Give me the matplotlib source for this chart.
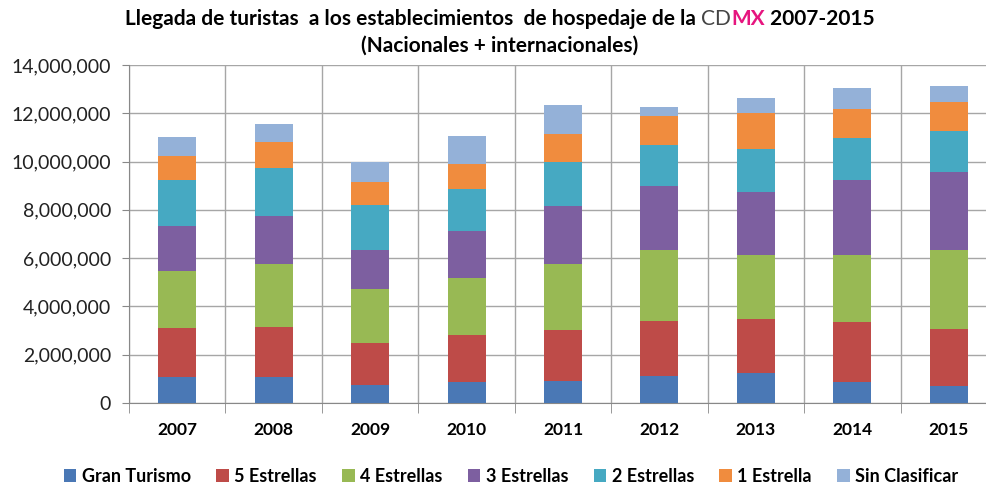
import numpy as np
import matplotlib
matplotlib.use("Agg")
import matplotlib.pyplot as plt
from matplotlib.ticker import FuncFormatter, MultipleLocator
from matplotlib.patches import Patch

plt.rcParams['font.family'] = ['Lato', 'DejaVu Sans']

# Data (millions of arrivals)
years = ['2007', '2008', '2009', '2010', '2011', '2012', '2013', '2014', '2015']
categorias = ['Gran Turismo', '5 Estrellas', '4 Estrellas', '3 Estrellas',
              '2 Estrellas', '1 Estrella', 'Sin Clasificar']
gran_turismo = [1.08, 1.08, 0.76, 0.85, 0.92, 1.13, 1.24, 0.85, 0.72]
cinco = [2.01, 2.07, 1.74, 1.97, 2.12, 2.27, 2.26, 2.49, 2.36]
cuatro = [2.36, 2.62, 2.22, 2.36, 2.73, 2.95, 2.64, 2.80, 3.27]
tres = [1.90, 1.96, 1.63, 1.95, 2.37, 2.65, 2.60, 3.11, 3.23]
dos = [1.87, 2.01, 1.86, 1.73, 1.85, 1.68, 1.79, 1.74, 1.70]
una = [1.03, 1.07, 0.94, 1.05, 1.17, 1.19, 1.50, 1.17, 1.20]
sin_clasificar = [0.76, 0.73, 0.83, 1.15, 1.18, 0.41, 0.61, 0.90, 0.63]

series = [gran_turismo, cinco, cuatro, tres, dos, una, sin_clasificar]
colores = ['#4A78B5', '#BE4B48', '#98B954', '#7D5FA0', '#46A9C2', '#F08C3E', '#94B1D8']

fig = plt.figure(figsize=(9.86, 4.87), dpi=100)
ax = fig.add_axes([129 / 986, 84 / 487, 868 / 986, 338 / 487])

x = np.arange(len(years))
bottom = np.zeros(len(years))
for vals, c in zip(series, colores):
    v = np.array(vals) * 1e6
    ax.bar(x, v, width=0.395, bottom=bottom, color=c, zorder=3)
    bottom += v

ax.set_xlim(-0.5, len(years) - 0.5)
ax.set_ylim(0, 14e6)
ax.yaxis.set_major_locator(MultipleLocator(2e6))
ax.yaxis.set_major_formatter(FuncFormatter(lambda v, p: f'{int(v):,}'))
ax.set_xticks(x)
ax.set_xticklabels(years, fontweight='bold', fontsize=12.5)
ax.set_xticks(np.arange(-0.5, len(years), 1), minor=True)
ax.tick_params(axis='x', which='major', length=0, pad=14)
ax.tick_params(axis='x', which='minor', length=7, color='#888888')
ax.tick_params(axis='y', length=5, color='#888888', labelsize=14, pad=8, labelcolor='#222222')
ax.grid(True, which='major', axis='y', color='#A6A6A6', lw=1, zorder=0)
ax.grid(True, which='minor', axis='x', color='#A6A6A6', lw=1, zorder=0)
for s in ['top', 'right']:
    ax.spines[s].set_visible(False)
for s in ['left', 'bottom']:
    ax.spines[s].set_color('#888888')

# Title with coloured CDMX
fig.canvas.draw()
r = fig.canvas.get_renderer()
parts = [("Llegada de turistas  a los establecimientos  de hospedaje de la ", 'black', 'bold'),
         ("CD", '#444444', 'normal'),
         ("MX", '#E6157F', 'bold'),
         (" 2007-2015", 'black', 'bold')]
texts = []
for s, c, w in parts:
    t = fig.text(0, 1 - 19 / 487, s, color=c, fontweight=w, fontsize=15, va='center', ha='left')
    texts.append(t)
widths = [t.get_window_extent(renderer=r).width for t in texts]
start = 500 - sum(widths) / 2
for t, w in zip(texts, widths):
    t.set_x(start / 986)
    start += w
fig.text(500 / 986, 1 - 46 / 487, "(Nacionales + internacionales)", fontweight='bold',
         fontsize=15, ha='center', va='center')

handles = [Patch(facecolor=c, label=l) for c, l in zip(colores, categorias)]
fig.legend(handles=handles, loc='center', bbox_to_anchor=(511 / 986, 1 - 476 / 487), ncol=7,
           frameon=False, handlelength=0.7, handleheight=0.7, handletextpad=0.3,
           columnspacing=1.4, prop={'weight': 'bold', 'size': 13})

fig.savefig('out.png', dpi=100)
